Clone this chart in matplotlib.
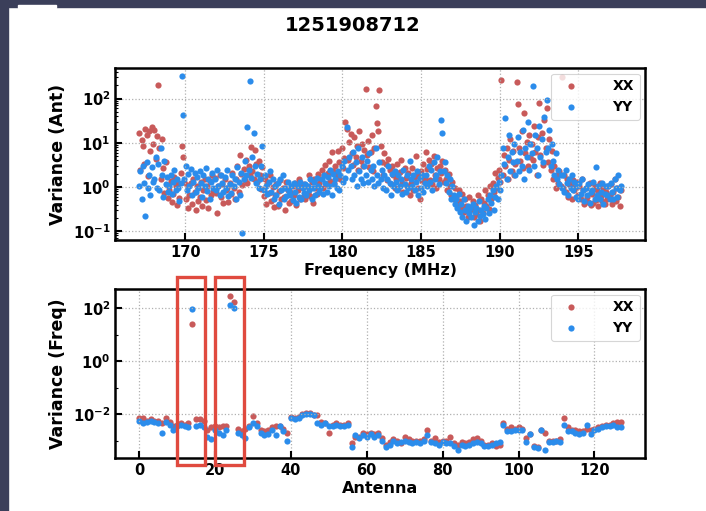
import numpy as np
import matplotlib
matplotlib.use("Agg")
import matplotlib.pyplot as plt
from matplotlib.patches import Rectangle
from matplotlib.ticker import FuncFormatter, LogLocator, NullFormatter

plt.rcParams["font.weight"] = "bold"
plt.rcParams["axes.labelweight"] = "bold"

obs_id = "1251908712"

# frequency channels (MHz), 80 kHz steps, 12 per row below
freq_start, freq_step, n_chan = 167.075, 0.08, 384
freqs = freq_start + freq_step * np.arange(n_chan)
freq_ticks = [170, 175, 180, 185, 190, 195]

# log10 variance per channel
xx_freq_log = [
    1.22, 0.38, 1.07, 0.93, 0.52, 1.31, 1.18, 0.24, 1.27, 0.81, 1.36, 0.97,
    1.29, 0.63, 1.16, 2.31, 0.88, 0.17, 1.08, 0.44, -0.13, 0.57, 0.04, -0.24,
    -0.08, 0.13, -0.33, -0.17, 0.22, 0.03, -0.41, 0.09, -0.24, 0.31, 0.92, 0.68,
    0.12, -0.28, 0.04, -0.47, -0.19, 0.08, -0.38, 0.17, -0.12, -0.52, 0.02, -0.31,
    -0.23, 0.11, -0.42, -0.07, 0.19, -0.29, 0.03, -0.48, 0.14, -0.18, 0.27, -0.09,
    0.21, -0.13, -0.58, 0.02, 0.28, -0.22, 0.07, -0.37, 0.18, -0.06, -0.02, -0.33,
    0.09, -0.17, 0.32, -0.03, -0.27, 0.18, 0.47, -0.11, 0.72, 0.29, 0.04, 0.41,
    0.16, 0.62, 0.08, 0.48, 0.27, 0.91, 0.36, 0.19, 0.84, 0.53, 0.12, 0.58,
    0.28, -0.04, 0.46, -0.21, 0.17, -0.39, 0.06, -0.13, 0.26, -0.32, 0.01, -0.46,
    -0.18, 0.07, -0.43, -0.09, 0.16, -0.27, -0.02, -0.22, -0.51, 0.12, -0.08, -0.36,
    -0.12, -0.31, 0.03, -0.19, 0.09, -0.41, -0.07, 0.18, -0.27, -0.01, -0.23, 0.06,
    -0.28, 0.02, -0.14, 0.26, -0.21, 0.11, -0.37, 0.19, -0.03, -0.17, 0.29, 0.08,
    0.17, 0.38, -0.02, 0.27, 0.49, 0.06, 0.31, 0.58, 0.14, 0.79, 0.36, 0.09,
    0.47, 0.26, 0.81, 0.57, 0.18, 0.88, 0.42, 0.66, 1.48, 1.31, 0.61, 1.02,
    1.19, 0.76, 0.49, 1.12, 0.68, 0.93, 0.38, 1.27, 0.59, 0.98, 0.47, 0.83,
    2.21, 0.72, 1.03, 0.46, 0.79, 1.18, 0.37, 0.87, 1.82, 1.44, 1.26, 2.19,
    0.92, 0.57, 0.28, 0.76, 0.51, 0.16, 0.63, 0.39, 0.07, 0.48, 0.27, -0.03,
    0.18, 0.52, -0.04, 0.33, 0.61, 0.09, -0.12, 0.42, 0.21, 0.02, 0.31, -0.19,
    0.08, 0.43, -0.08, 0.22, 0.71, 0.27, -0.02, -0.28, 0.37, 0.13, 0.53, 0.18,
    0.78, 0.41, 0.62, 0.16, 0.52, 0.07, 0.69, 0.28, -0.03, 0.43, 0.19, 0.47,
    0.32, 0.58, 0.12, 0.38, 0.17, -0.08, 0.29, 0.03, -0.18, 0.11, -0.27, -0.02,
    -0.22, -0.38, -0.07, -0.31, -0.48, -0.17, -0.57, -0.28, -0.42, -0.68, -0.23, -0.53,
    -0.47, -0.32, -0.69, -0.41, -0.62, -0.19, -0.52, -0.77, -0.28, -0.58, -0.37, -0.08,
    -0.42, -0.18, -0.49, 0.03, -0.27, 0.08, -0.12, 0.32, -0.03, 0.21, 0.38, 0.12,
    2.43, 0.27, 0.72, 0.48, 0.87, 0.18, 0.61, 1.08, 0.37, 0.82, 0.26, 0.52,
    2.38, 1.88, 0.87, 0.58, 1.27, 0.42, 1.68, 0.76, 1.02, 0.47, 1.18, 0.68,
    0.97, 0.62, 1.38, 0.79, 0.28, 1.12, 1.91, 0.73, 1.21, 0.49, 1.52, 0.88,
    1.79, 0.57, 1.08, 0.38, 0.82, 0.17, 0.47, -0.02, 0.28, 0.09, 0.36, 0.03,
    2.48, -0.03, 0.27, -0.12, 0.18, -0.23, 0.07, 0.02, -0.28, 0.16, -0.08, -0.01,
    0.11, -0.18, 0.03, -0.27, 0.19, -0.07, -0.38, -0.02, -0.22, -0.33, 0.08, -0.41,
    -0.17, -0.36, 0.02, -0.29, -0.08, -0.42, 0.09, -0.21, -0.32, -0.03, -0.38, -0.12,
    -0.27, 0.03, -0.18, 0.07, -0.39, -0.11, 0.17, -0.31, -0.02, -0.22, -0.43, -0.07,
]
yy_freq_log = [
    0.02, 0.37, -0.28, 0.48, 0.08, -0.66, 0.57, -0.03, 0.27, -0.18, 0.46, 0.12,
    0.18, 0.68, -0.02, 0.51, -0.08, 0.87, 0.28, -0.22, 0.59, 0.07, 0.23, -0.11,
    0.03, 0.27, -0.17, 0.12, 0.38, -0.07, 0.19, -0.02, -0.31, 0.08, 2.52, 1.62,
    0.17, 0.48, -0.08, 0.29, 0.02, 0.41, -0.18, 0.11, 0.32, -0.12, 0.23, -0.03,
    0.37, 0.08, -0.22, 0.28, 0.03, 0.42, -0.09, 0.17, -0.27, 0.12, 0.31, -0.02,
    0.19, -0.08, 0.38, 0.02, -0.18, 0.27, 0.09, -0.12, 0.22, -0.03, 0.39, -0.21,
    0.07, -0.13, 0.28, 0.03, 0.18, -0.27, 0.46, 0.12, -0.19, 0.32, -1.04, 0.17,
    0.58, 0.27, 1.36, 0.38, 2.39, 0.21, 0.67, 1.21, 0.47, 0.08, 0.29, -0.02,
    0.18, 0.47, 0.92, -0.08, 0.27, 0.02, -0.17, 0.12, 0.37, -0.12, 0.19, -0.28,
    0.03, -0.18, 0.09, -0.38, 0.17, -0.07, 0.28, -0.27, -0.02, -0.21, 0.12, -0.09,
    -0.18, 0.02, -0.29, 0.08, -0.12, -0.37, 0.03, -0.22, 0.11, -0.28, -0.03, -0.13,
    0.07, -0.18, 0.02, -0.08, 0.18, -0.27, -0.02, 0.12, -0.19, 0.21, 0.03, -0.11,
    -0.02, 0.18, -0.17, 0.27, 0.08, -0.12, 0.22, 0.02, 0.38, -0.18, 0.29, 0.07,
    0.18, -0.03, 0.37, -0.08, 0.27, 0.48, 0.12, 0.58, 0.21, 1.36, 0.38, 0.68,
    0.47, 0.17, 0.78, 0.28, 0.57, 0.02, 0.87, 0.37, 0.18, 0.67, 0.08, 0.48,
    0.27, 0.58, 0.12, 0.77, 0.38, 0.18, 0.47, 0.03, 0.88, 0.28, 0.09, 0.57,
    0.18, 0.38, -0.02, 0.27, -0.08, 0.17, 0.48, 0.08, -0.18, 0.29, 0.02, 0.37,
    0.12, -0.08, 0.28, 0.03, 0.18, -0.17, 0.38, 0.07, -0.12, 0.27, -0.02, 0.58,
    0.17, 0.02, 0.28, -0.08, 0.12, 0.37, -0.18, 0.21, -0.02, 0.27, -0.12, 0.08,
    0.27, 0.03, 0.47, 0.12, 0.38, -0.08, 0.57, 0.18, 0.28, 0.68, 0.07, 0.37,
    1.52, 1.22, 0.37, 0.57, 0.08, 0.27, -0.12, 0.17, -0.28, 0.02, -0.18, -0.38,
    -0.28, -0.48, -0.17, -0.57, -0.38, -0.67, -0.27, -0.52, -0.78, -0.42, -0.58, -0.47,
    -0.68, -0.38, -0.86, -0.57, -0.47, -0.78, -0.31, -0.66, -0.52, -0.61, -0.42, -0.72,
    -0.47, -0.28, -0.58, -0.18, -0.37, -0.08, -0.52, -0.22, 0.02, -0.28, 0.12, -0.07,
    0.28, 0.87, 0.52, 1.57, 0.18, 0.68, 1.18, 0.37, 0.78, 0.57, 0.98, 0.27,
    0.58, 1.12, 0.37, 0.78, 0.48, 1.28, 0.17, 0.88, 0.67, 1.48, 0.38, 0.98,
    0.77, 2.28, 0.47, 1.18, 0.87, 0.28, 1.38, 0.67, 1.08, 0.57, 1.58, 0.78,
    1.96, 0.87, 1.28, 0.47, 0.98, 0.58, 0.28, 0.77, 0.18, 0.38, 0.07, 0.27,
    -0.02, 0.28, -0.12, 0.38, 0.08, -0.18, 0.17, -0.03, 0.27, -0.08, 0.12, -0.22,
    0.02, -0.28, 0.08, -0.17, 0.18, -0.08, -0.32, -0.02, -0.18, 0.07, -0.37, -0.12,
    -0.08, 0.12, -0.27, 0.46, -0.18, 0.02, -0.28, -0.12, 0.08, -0.38, -0.17, 0.03,
    -0.18, 0.03, -0.28, 0.08, -0.12, -0.27, 0.18, -0.02, -0.22, 0.28, -0.08, 0.02,
]

# antennas 0..127, log10 variance
antennas = np.arange(128)
ant_ticks = [0, 20, 40, 60, 80, 100, 120]
xx_ant_log = [
    -2.15, -2.15, -2.25, -2.2, -2.25, -2.25, -2.35, -2.15, -2.3, -2.45,
    -2.4, -2.35, -2.4, -2.35, 1.4, -2.2, -2.2, -2.25, -2.6, -2.5,
    -2.45, -2.5, -2.45, -2.45, 2.45, 2.23, -2.55, -2.65, -2.55, -2.45,
    -2.08, -2.35, -2.6, -2.65, -2.6, -2.5, -2.45, -2.45, -2.55, -2.7,
    -2.1, -2.15, -2.1, -2.0, -1.95, -1.95, -2.05, -2.05, -2.3, -2.35,
    -2.7, -2.4, -2.35, -2.4, -2.4, -2.35, -3.1, -2.85, -2.85, -2.7,
    -2.75, -2.7, -2.75, -2.7, -2.9, -3.15, -3.05, -2.95, -3.0, -3.1,
    -2.85, -2.95, -3.0, -3.0, -3.0, -2.95, -2.6, -3.0, -2.9, -3.05,
    -3.0, -3.0, -2.85, -3.1, -3.15, -3.05, -3.1, -3.05, -2.95, -2.9,
    -3.0, -3.15, -3.15, -3.1, -3.2, -3.15, -2.32, -2.55, -2.5, -2.55,
    -2.5, -2.55, -2.9, -2.75, -3.2, -3.25, -2.6, -2.7, -3.0, -3.0,
    -3.0, -2.95, -2.15, -2.5, -2.6, -2.6, -2.65, -2.65, -2.55, -2.6,
    -2.55, -2.5, -2.45, -2.4, -2.4, -2.35, -2.3, -2.3,
]
yy_ant_log = [
    -2.25, -2.35, -2.3, -2.25, -2.3, -2.35, -2.7, -2.3, -2.4, -2.6,
    -2.45, -2.4, -2.45, -2.5, 1.95, -2.45, -2.4, -2.5, -2.85, -2.95,
    -2.6, -2.7, -2.8, -2.6, 2.1, 2.0, -2.7, -2.8, -2.9, -2.5,
    -2.35, -2.45, -2.7, -2.8, -2.75, -2.6, -2.8, -2.45, -2.65, -3.0,
    -2.15, -2.2, -2.15, -2.05, -2.0, -2.0, -2.05, -2.35, -2.4, -2.35,
    -2.45, -2.45, -2.4, -2.45, -2.45, -2.4, -3.25, -2.8, -2.9, -2.8,
    -2.85, -2.75, -2.85, -2.8, -3.0, -3.25, -3.15, -3.0, -3.1, -3.05,
    -3.0, -3.05, -3.1, -3.05, -3.1, -3.0, -2.8, -3.05, -3.1, -3.15,
    -3.05, -3.1, -3.1, -3.2, -3.35, -3.15, -3.2, -3.15, -3.1, -3.05,
    -3.1, -3.2, -3.2, -3.15, -3.1, -3.05, -2.4, -2.65, -2.65, -2.6,
    -2.6, -2.6, -3.05, -2.75, -3.25, -3.3, -2.6, -3.35, -3.05, -3.05,
    -3.0, -3.05, -2.4, -2.65, -2.65, -2.7, -2.75, -2.7, -2.4, -2.75,
    -2.6, -2.55, -2.5, -2.45, -2.45, -2.4, -2.5, -2.5,
]

xx_color = "#c85a5a"
yy_color = "#2b8ceb"


def bold_pow10(val, pos):
    if val <= 0:
        return ""
    e = int(round(np.log10(val)))
    return r"$\mathbf{10^{%d}}$" % e


def style_axis(ax, xticks):
    ax.set_yscale("log")
    ax.grid(True, which="major", linestyle=":", color="#b0b0b0", linewidth=0.9)
    ax.set_xticks(xticks, labels=[str(t) for t in xticks],
                  fontweight="bold", fontsize=10.5)
    ax.tick_params(which="major", direction="in", length=5, width=1.5,
                   labelsize=10.5)
    ax.tick_params(which="minor", direction="in", length=2.5, width=0.8)
    for sp in ax.spines.values():
        sp.set_linewidth(1.8)
    ax.yaxis.set_major_formatter(FuncFormatter(bold_pow10))
    ax.yaxis.set_minor_formatter(NullFormatter())
    leg = ax.legend(loc="upper right", prop={"weight": "bold", "size": 10},
                    handletextpad=2.0, borderaxespad=0.4, markerscale=1.0)
    leg.get_frame().set_linewidth(0.8)


fig = plt.figure(figsize=(7.06, 5.11), dpi=100)

ax1 = fig.add_axes([0.163, 0.5303, 0.7507, 0.3366])
ax1.scatter(freqs, 10.0 ** np.array(xx_freq_log), s=20, color=xx_color,
            label="XX", linewidths=0)
ax1.scatter(freqs, 10.0 ** np.array(yy_freq_log), s=20, color=yy_color,
            label="YY", linewidths=0)
style_axis(ax1, freq_ticks)
ax1.set_ylim(10 ** -1.2, 10 ** 2.69)
ax1.yaxis.set_major_locator(LogLocator(base=10, numticks=10))
ax1.yaxis.set_minor_locator(LogLocator(base=10, subs=np.arange(2, 10) * 1.0,
                                       numticks=20))
ax1.set_xlabel("Frequency (MHz)", fontsize=11.5, labelpad=2)
ax1.set_ylabel("Variance (Ant)", fontsize=12.5)

ax2 = fig.add_axes([0.163, 0.1037, 0.7507, 0.3307])
ax2.scatter(antennas, 10.0 ** np.array(xx_ant_log), s=20, color=xx_color,
            label="XX", linewidths=0)
ax2.scatter(antennas, 10.0 ** np.array(yy_ant_log), s=20, color=yy_color,
            label="YY", linewidths=0)
style_axis(ax2, ant_ticks)
ax2.set_ylim(10 ** -3.66, 10 ** 2.72)
ax2.set_yticks([1e-2, 1e0, 1e2])
ax2.yaxis.set_major_formatter(FuncFormatter(bold_pow10))
ax2.yaxis.set_minor_locator(LogLocator(base=10, subs=[1.0], numticks=20))
ax2.set_xlabel("Antenna", fontsize=11.5, labelpad=2)
ax2.set_ylabel("Variance (Freq)", fontsize=12.5)

fig.suptitle(obs_id, fontsize=14, fontweight="bold", y=0.968)

# screenshot frame and the hand-drawn highlight boxes
W, H = 706.0, 511.0
frame = "#3b3f5a"
fig.patches.append(Rectangle((0, 0), 8 / W, 1, transform=fig.transFigure,
                             color=frame, zorder=10))
fig.patches.append(Rectangle((0, 1 - 7 / H), 1, 7 / H, transform=fig.transFigure,
                             color=frame, zorder=10))
fig.patches.append(Rectangle((18 / W, 1 - 8 / H), 38 / W, 3 / H,
                             transform=fig.transFigure, color="white", zorder=11))
for x0, x1 in [(177, 205), (215, 244)]:
    fig.patches.append(Rectangle((x0 / W, 1 - 465 / H), (x1 - x0) / W, 188 / H,
                                 transform=fig.transFigure, fill=False,
                                 edgecolor="#e04a3f", linewidth=2.4, zorder=12))

fig.savefig("out.png", dpi=100)
